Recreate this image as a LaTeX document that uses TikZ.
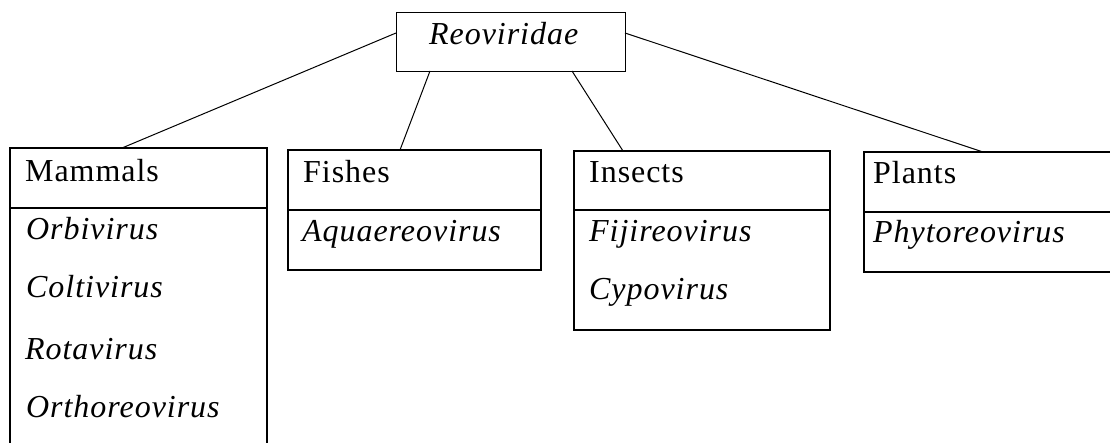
\documentclass[tikz,border=0pt]{standalone}
\usepackage{fontspec}
\setmainfont{Liberation Serif}[LetterSpace=3]
\usetikzlibrary{calc}
\begin{document}
\begin{tikzpicture}[x=1pt,y=-1pt,
  boxline/.style={line width=1.3pt},
  link/.style={line width=1pt},
  lab/.style={anchor=base west, inner sep=0pt, font=\fontsize{32}{36}\selectfont},
  itlab/.style={anchor=base west, inner sep=0pt, font=\fontsize{32}{36}\selectfont\itshape}]
\useasboundingbox[fill=white] (0,0) rectangle (1110,443);

% root box
\node[draw, boxline, anchor=north west, minimum width=229pt, minimum height=59pt, inner sep=0pt] (root) at (396,12) {};
\node[itlab] (rootlab) at (429,45) {Reoviridae};
\coordinate (rootL) at (396,33);
\coordinate (rootR) at (625,33);
\coordinate (rootB1) at (430,71);
\coordinate (rootB2) at (572,71);

% Mammals box (open at the bottom)
\coordinate (mamTL) at (10,148);
\coordinate (mamTR) at (267,148);
\draw[boxline] (10,443) -- (mamTL) -- (mamTR) -- (267,443);
\draw[boxline] (10,208) -- (267,208);
\coordinate (mamTop) at (122,148);
\node[lab] (mam) at (25,182) {Mammals};
\node[itlab] (orbi) at (26,240) {Orbivirus};
\node[itlab] (colti) at (26,298) {Coltivirus};
\node[itlab] (rota) at (25,359) {Rotavirus};
\node[itlab] (ortho) at (26,417) {Orthoreovirus};

% Fishes box
\draw[boxline] (288,150) rectangle (541,270);
\draw[boxline] (288,210) -- (541,210);
\coordinate (fishTop) at (400,150);
\node[lab] (fish) at (303,183) {Fishes};
\node[itlab] (aqua) at (302,242) {Aquaereovirus};

% Insects box
\draw[boxline] (574,151) rectangle (830,330);
\draw[boxline] (574,210) -- (830,210);
\coordinate (insTop) at (623,151);
\node[lab] (ins) at (589,183) {Insects};
\node[itlab] (fiji) at (589,242) {Fijireovirus};
\node[itlab] (cypo) at (589,300) {Cypovirus};

% Plants box (open at the right)
\draw[boxline] (1110,152) -- (864,152) -- (864,272) -- (1110,272);
\draw[boxline] (864,212) -- (1110,212);
\coordinate (plaTop) at (983,152);
\node[lab] (pla) at (873,184) {Plants};
\node[itlab] (phyto) at (873,243) {Phytoreovirus};

% connectors
\draw[link] (rootL) -- (mamTop);
\draw[link] (rootB1) -- (fishTop);
\draw[link] (rootB2) -- (insTop);
\draw[link] (rootR) -- (plaTop);
\end{tikzpicture}
\end{document}
